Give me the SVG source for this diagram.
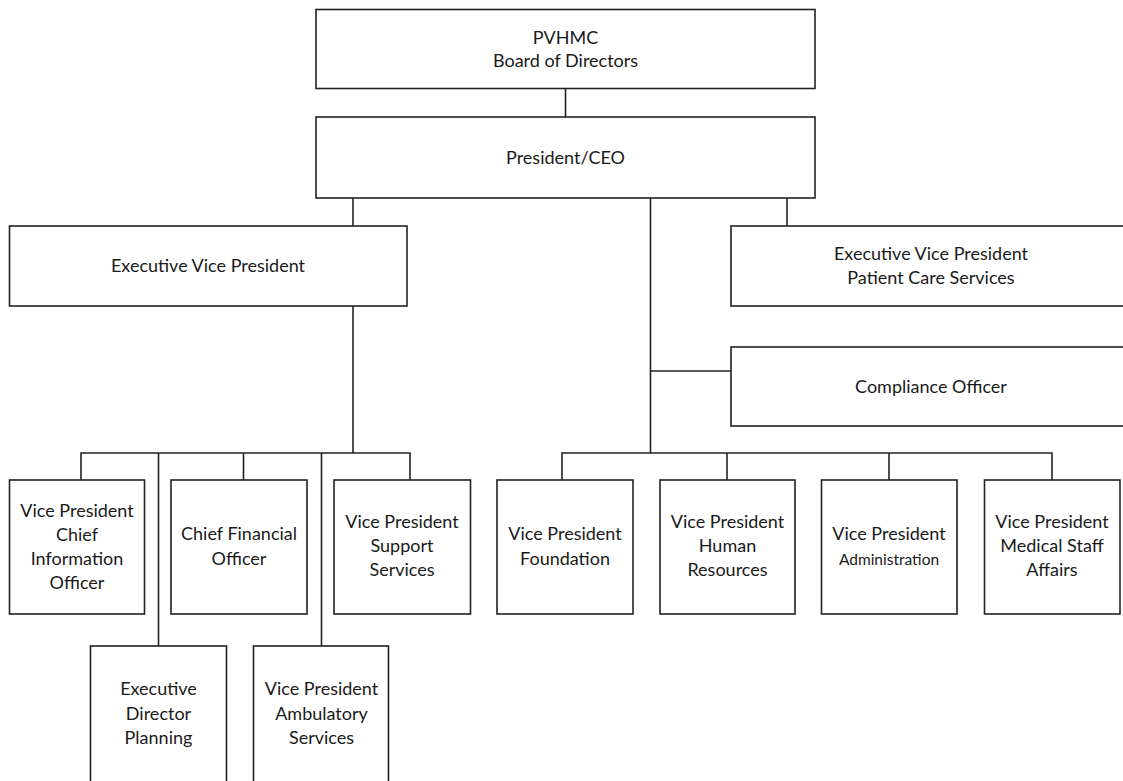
<svg xmlns="http://www.w3.org/2000/svg" width="1123" height="781" viewBox="0 0 1123 781">
<style>
.box{fill:#fff;stroke:#222;stroke-width:1.6}
.ln{fill:none;stroke:#222;stroke-width:1.6}
text{font-family:Lato,"Open Sans","Liberation Sans",sans-serif;font-size:18px;fill:#1a1a1a;text-anchor:middle}
.sm{font-size:15.5px}
</style>
<rect width="1123" height="781" fill="#fff"/>
<g id="connectors">
<path class="ln" d="M565.5 89V117"/>
<path class="ln" d="M353 198V226"/>
<path class="ln" d="M787 198V226"/>
<path class="ln" d="M650.5 198V453"/>
<path class="ln" d="M650.5 371H731"/>
<path class="ln" d="M562 480V453H1052V480"/>
<path class="ln" d="M727 453V480"/>
<path class="ln" d="M889 453V480"/>
<path class="ln" d="M353 306V453"/>
<path class="ln" d="M81 480V453H410V480"/>
<path class="ln" d="M243.5 453V480"/>
<path class="ln" d="M158.5 453V646"/>
<path class="ln" d="M321.5 453V646"/>
</g>
<g id="board"><rect class="box" x="316" y="9.5" width="499" height="79"/><text x="565.5" y="44">PVHMC</text><text x="565.5" y="67">Board of Directors</text></g>
<g id="ceo"><rect class="box" x="316" y="117" width="499" height="81"/><text x="565.5" y="164">President/CEO</text></g>
<g id="evp"><rect class="box" x="9.5" y="226" width="397.5" height="80"/><text x="208" y="272">Executive Vice President</text></g>
<g id="evp-pcs"><rect class="box" x="731" y="226" width="400" height="80"/><text x="931" y="260">Executive Vice President</text><text x="931" y="284">Patient Care Services</text></g>
<g id="compliance"><rect class="box" x="731" y="347" width="400" height="79"/><text x="931" y="393">Compliance Officer</text></g>
<g id="vp-cio"><rect class="box" x="9.5" y="480" width="135" height="134"/><text x="77" y="517">Vice President</text><text x="77" y="541">Chief</text><text x="77" y="565">Information</text><text x="77" y="589">Officer</text></g>
<g id="cfo"><rect class="box" x="171" y="480" width="136" height="134"/><text x="239" y="540">Chief Financial</text><text x="239" y="565">Officer</text></g>
<g id="vp-support"><rect class="box" x="334" y="480" width="136.5" height="134"/><text x="402" y="528">Vice President</text><text x="402" y="552">Support</text><text x="402" y="576">Services</text></g>
<g id="ed-planning"><rect class="box" x="90.5" y="646" width="136" height="150"/><text x="158.5" y="695">Executive</text><text x="158.5" y="720">Director</text><text x="158.5" y="744">Planning</text></g>
<g id="vp-ambulatory"><rect class="box" x="253.5" y="646" width="135" height="150"/><text x="321.5" y="695">Vice President</text><text x="321.5" y="720">Ambulatory</text><text x="321.5" y="744">Services</text></g>
<g id="vp-foundation"><rect class="box" x="497" y="480" width="136" height="134"/><text x="565" y="540">Vice President</text><text x="565" y="565">Foundation</text></g>
<g id="vp-hr"><rect class="box" x="660" y="480" width="135" height="134"/><text x="727.5" y="528">Vice President</text><text x="727.5" y="552">Human</text><text x="727.5" y="576">Resources</text></g>
<g id="vp-admin"><rect class="box" x="821.5" y="480" width="135.5" height="134"/><text x="889" y="540">Vice President</text><text class="sm" x="889" y="565">Administration</text></g>
<g id="vp-medstaff"><rect class="box" x="984.5" y="480" width="135.5" height="134"/><text x="1052" y="528">Vice President</text><text x="1052" y="552">Medical Staff</text><text x="1052" y="576">Affairs</text></g>
</svg>
